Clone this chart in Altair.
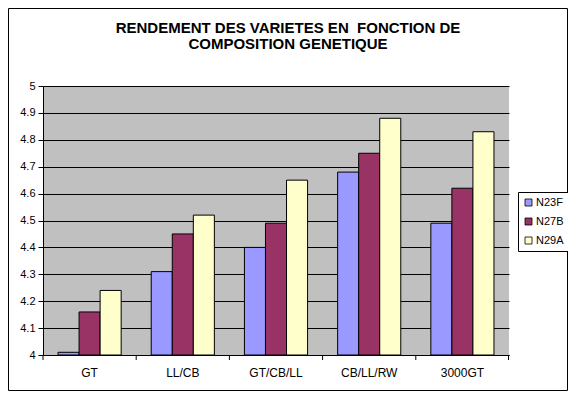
import altair as alt
import pandas as pd

categories = ["GT", "LL/CB", "GT/CB/LL", "CB/LL/RW", "3000GT"]
series = ["N23F", "N27B", "N29A"]
n23f = [4.01, 4.31, 4.40, 4.68, 4.49]
n27b = [4.16, 4.45, 4.49, 4.75, 4.62]
n29a = [4.24, 4.52, 4.65, 4.88, 4.83]
colors = ["#9999FF", "#993366", "#FFFFCC"]
y_ticks = [4.0, 4.1, 4.2, 4.3, 4.4, 4.5, 4.6, 4.7, 4.8, 4.9, 5.0]
title_lines = ["RENDEMENT DES VARIETES EN \u00a0FONCTION DE", "COMPOSITION GENETIQUE"]

rows = []
for s, vals in zip(series, [n23f, n27b, n29a]):
    for c, v in zip(categories, vals):
        rows.append({"cat": c, "serie": s, "val": v})
df = pd.DataFrame(rows)

FONT = "Arial, Liberation Sans"
W, H = 466, 269

xscale = alt.Scale(domain=categories, paddingInner=0, paddingOuter=0)

bars = alt.Chart(df).mark_bar(stroke="black", strokeWidth=1).encode(
    x=alt.X("cat:N", scale=xscale, sort=categories,
            axis=alt.Axis(title=None, labelAngle=0, ticks=False, domain=True,
                          domainColor="black", labelPadding=12, labelFontSize=12,
                          labelFont=FONT, labelColor="black", grid=False)),
    xOffset=alt.XOffset("serie:N", sort=series,
                        scale=alt.Scale(paddingInner=0, paddingOuter=0.714)),
    y=alt.Y("val:Q", scale=alt.Scale(domain=[4, 5], nice=False, zero=False),
            axis=alt.Axis(title=None, values=y_ticks, format="~g", grid=True,
                          gridColor="black", gridOpacity=1, gridWidth=1,
                          domainColor="black", tickColor="black", tickSize=5,
                          labelPadding=3, labelFontSize=11, labelFont=FONT,
                          labelColor="black")),
    y2=alt.datum(4),
    color=alt.Color("serie:N", sort=series,
                    scale=alt.Scale(domain=series, range=colors),
                    legend=alt.Legend(title=None, orient="none", legendX=475, legendY=106,
                                      strokeColor="black", fillColor="white",
                                      padding=5, symbolType="square", symbolSize=49,
                                      symbolStrokeColor="black", symbolStrokeWidth=0.8,
                                      labelFontSize=11, labelFont=FONT,
                                      labelColor="black", rowPadding=7,
                                      labelOffset=2)),
)

cat_df = pd.DataFrame({"cat": categories})
ticks = alt.Chart(cat_df).mark_rule(color="black").encode(
    x=alt.X("cat:N", scale=xscale, sort=categories, bandPosition=0),
    y=alt.value(H), y2=alt.value(H + 5),
)

end_tick = alt.Chart(pd.DataFrame({"a": [0]})).mark_rule(color="black").encode(
    x=alt.value(W - 0.5), y=alt.value(H), y2=alt.value(H + 5)
)

frame = alt.Chart(pd.DataFrame({"a": [0]})).mark_rect(
    fill=None, stroke="black", strokeWidth=1
).encode(
    x=alt.value(-34.5), x2=alt.value(524.5), y=alt.value(-77.5), y2=alt.value(304.5)
)

title_df = pd.DataFrame({"t": title_lines, "i": [0, 1]})
title = alt.Chart(title_df).mark_text(
    font=FONT, fontSize=15, fontWeight="bold", color="black",
    align="center", baseline="alphabetic"
).encode(
    text="t:N",
    x=alt.value(245),
    y=alt.Y("i:Q", scale=alt.Scale(domain=[0, 1], range=[-53.3, -36.7]), axis=None),
)

chart = alt.layer(frame, bars, ticks, end_tick, title).resolve_scale(y="independent").properties(
    width=W, height=H,
    autosize=alt.AutoSizeParams(type="none"),
    padding={"left": 35, "top": 78, "right": 59, "bottom": 36},
    background="white",
).configure_view(fill="#C0C0C0", stroke=None)

chart.save("out.html", embed_options={"renderer": "svg", "actions": False})
